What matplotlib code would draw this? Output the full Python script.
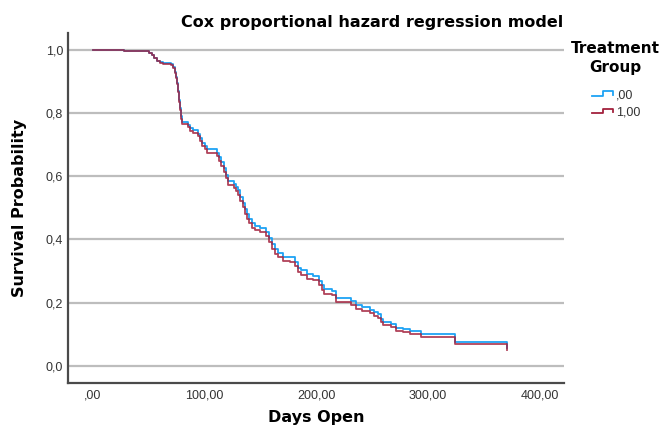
import matplotlib
matplotlib.use("Agg")
import matplotlib.pyplot as plt
from matplotlib.lines import Line2D
from matplotlib.legend_handler import HandlerBase

# event times (days)
days = [0, 28, 50, 53, 55, 57, 60, 63, 70, 72, 73, 74, 75, 76, 77, 78, 79, 80,
        85, 87, 90, 94, 96, 98, 100, 102, 111, 113, 115, 117, 119, 121, 126, 128,
        130, 132, 134, 136, 138, 140, 142, 145, 150, 155, 158, 160, 163, 166, 170,
        176, 181, 184, 186, 192, 197, 202, 205, 207, 214, 218, 231, 236, 241, 248,
        252, 255, 258, 260, 267, 271, 278, 284, 294, 324, 371]

# survival, group ,00 (blue)
surv_g0 = [1.0, 0.995, 0.99, 0.985, 0.975, 0.965, 0.96, 0.957, 0.955, 0.945, 0.93,
           0.915, 0.895, 0.87, 0.84, 0.815, 0.79, 0.772, 0.763, 0.752, 0.745, 0.735,
           0.72, 0.705, 0.695, 0.685, 0.675, 0.66, 0.645, 0.625, 0.605, 0.585, 0.576,
           0.565, 0.555, 0.535, 0.515, 0.495, 0.48, 0.465, 0.452, 0.443, 0.437, 0.425,
           0.405, 0.385, 0.37, 0.358, 0.345, 0.343, 0.33, 0.31, 0.302, 0.29, 0.285,
           0.27, 0.255, 0.242, 0.236, 0.214, 0.205, 0.192, 0.185, 0.178, 0.17, 0.163,
           0.15, 0.14, 0.133, 0.12, 0.116, 0.11, 0.10, 0.077, 0.058]

# survival, group 1,00 (red)
surv_g1 = [1.0, 0.9948, 0.9896, 0.9844, 0.974, 0.9636, 0.9584, 0.9553, 0.9532, 0.9428,
           0.9273, 0.9118, 0.891, 0.8652, 0.8342, 0.8083, 0.7825, 0.7641, 0.7548,
           0.7435, 0.7362, 0.726, 0.7106, 0.6952, 0.685, 0.6748, 0.6645, 0.6491,
           0.6338, 0.6134, 0.593, 0.5726, 0.5634, 0.5523, 0.5421, 0.5218, 0.5015,
           0.4813, 0.4661, 0.451, 0.4378, 0.4288, 0.4228, 0.4107, 0.3906, 0.3706,
           0.3555, 0.3436, 0.3306, 0.3286, 0.3157, 0.2958, 0.2879, 0.276, 0.2711,
           0.2562, 0.2414, 0.2286, 0.2228, 0.2012, 0.1924, 0.1797, 0.1729, 0.1661,
           0.1584, 0.1516, 0.139, 0.1294, 0.1227, 0.1102, 0.1064, 0.1007, 0.0912,
           0.0695, 0.0518]

group_labels = [",00", "1,00"]
x_ticks = [0, 100, 200, 300, 400]
x_tick_labels = [",00", "100,00", "200,00", "300,00", "400,00"]
y_ticks = [0.0, 0.2, 0.4, 0.6, 0.8, 1.0]
y_tick_labels = ["0,0", "0,2", "0,4", "0,6", "0,8", "1,0"]

BLUE = "#1EA2F4"
RED = "#A3213D"
BOLD = dict(fontsize=11.5, fontweight="bold", family="DejaVu Sans")


# little step icon like SPSS uses in the legend
class StepHandler(HandlerBase):
    def create_artists(self, legend, orig, xd, yd, w, h, fontsize, trans):
        xs = [xd, xd + 0.5 * w, xd + 0.5 * w, xd + 0.95 * w, xd + 0.95 * w]
        ys = [yd + 0.25 * h, yd + 0.25 * h, yd + 0.8 * h, yd + 0.8 * h, yd + 0.4 * h]
        ln = Line2D(xs, ys, color=orig.get_color(), lw=1.3, transform=trans)
        return [ln]


fig = plt.figure(figsize=(6.62, 4.33), dpi=100)
ax = fig.add_axes([0.1027, 0.1162, 0.749, 0.8083])

l0, = ax.step(days, surv_g0, where="post", color=BLUE, lw=1.3, label=group_labels[0])
l1, = ax.step(days, surv_g1, where="post", color=RED, lw=1.3, alpha=0.85, label=group_labels[1])

ax.set_xlim(-22.4, 421.7)
ax.set_ylim(-0.053, 1.054)
ax.set_xticks(x_ticks)
ax.set_xticklabels(x_tick_labels)
ax.set_yticks(y_ticks)
ax.set_yticklabels(y_tick_labels)
ax.tick_params(length=0, labelsize=9, labelcolor="#333333")
ax.tick_params(axis="x", pad=5)
ax.tick_params(axis="y", pad=3.5)
for lab in ax.get_xticklabels() + ax.get_yticklabels():
    lab.set_family("Liberation Sans")

ax.yaxis.grid(True, color="#BDBDBD", lw=1.6)
ax.set_axisbelow(True)
for s in ["top", "right"]:
    ax.spines[s].set_visible(False)
for s in ["left", "bottom"]:
    ax.spines[s].set_color("#4A4A4A")
    ax.spines[s].set_linewidth(1.6)

fig.text(0.562, 0.949, "Cox proportional hazard regression model", ha="center", va="center", **BOLD)
fig.text(0.478, 0.035, "Days Open", ha="center", va="center", **BOLD)
fig.text(0.030, 0.52, "Survival Probability", ha="center", va="center", rotation=90, **BOLD)

# legend
LEG = dict(BOLD, fontsize=11)
fig.text(0.929, 0.889, "Treatment", ha="center", va="center", **LEG)
fig.text(0.929, 0.845, "Group", ha="center", va="center", **LEG)
fig.legend(handles=[l0, l1], labels=group_labels, loc="upper left",
           bbox_to_anchor=(592 / 662, 1 - 89 / 433), frameon=False,
           handler_map={Line2D: StepHandler()}, handlelength=1.8, handletextpad=0.1,
           labelspacing=0.45, borderpad=0, borderaxespad=0,
           prop={"family": "Liberation Sans", "size": 9}, labelcolor="#333333")

fig.savefig("out.png", dpi=100)
